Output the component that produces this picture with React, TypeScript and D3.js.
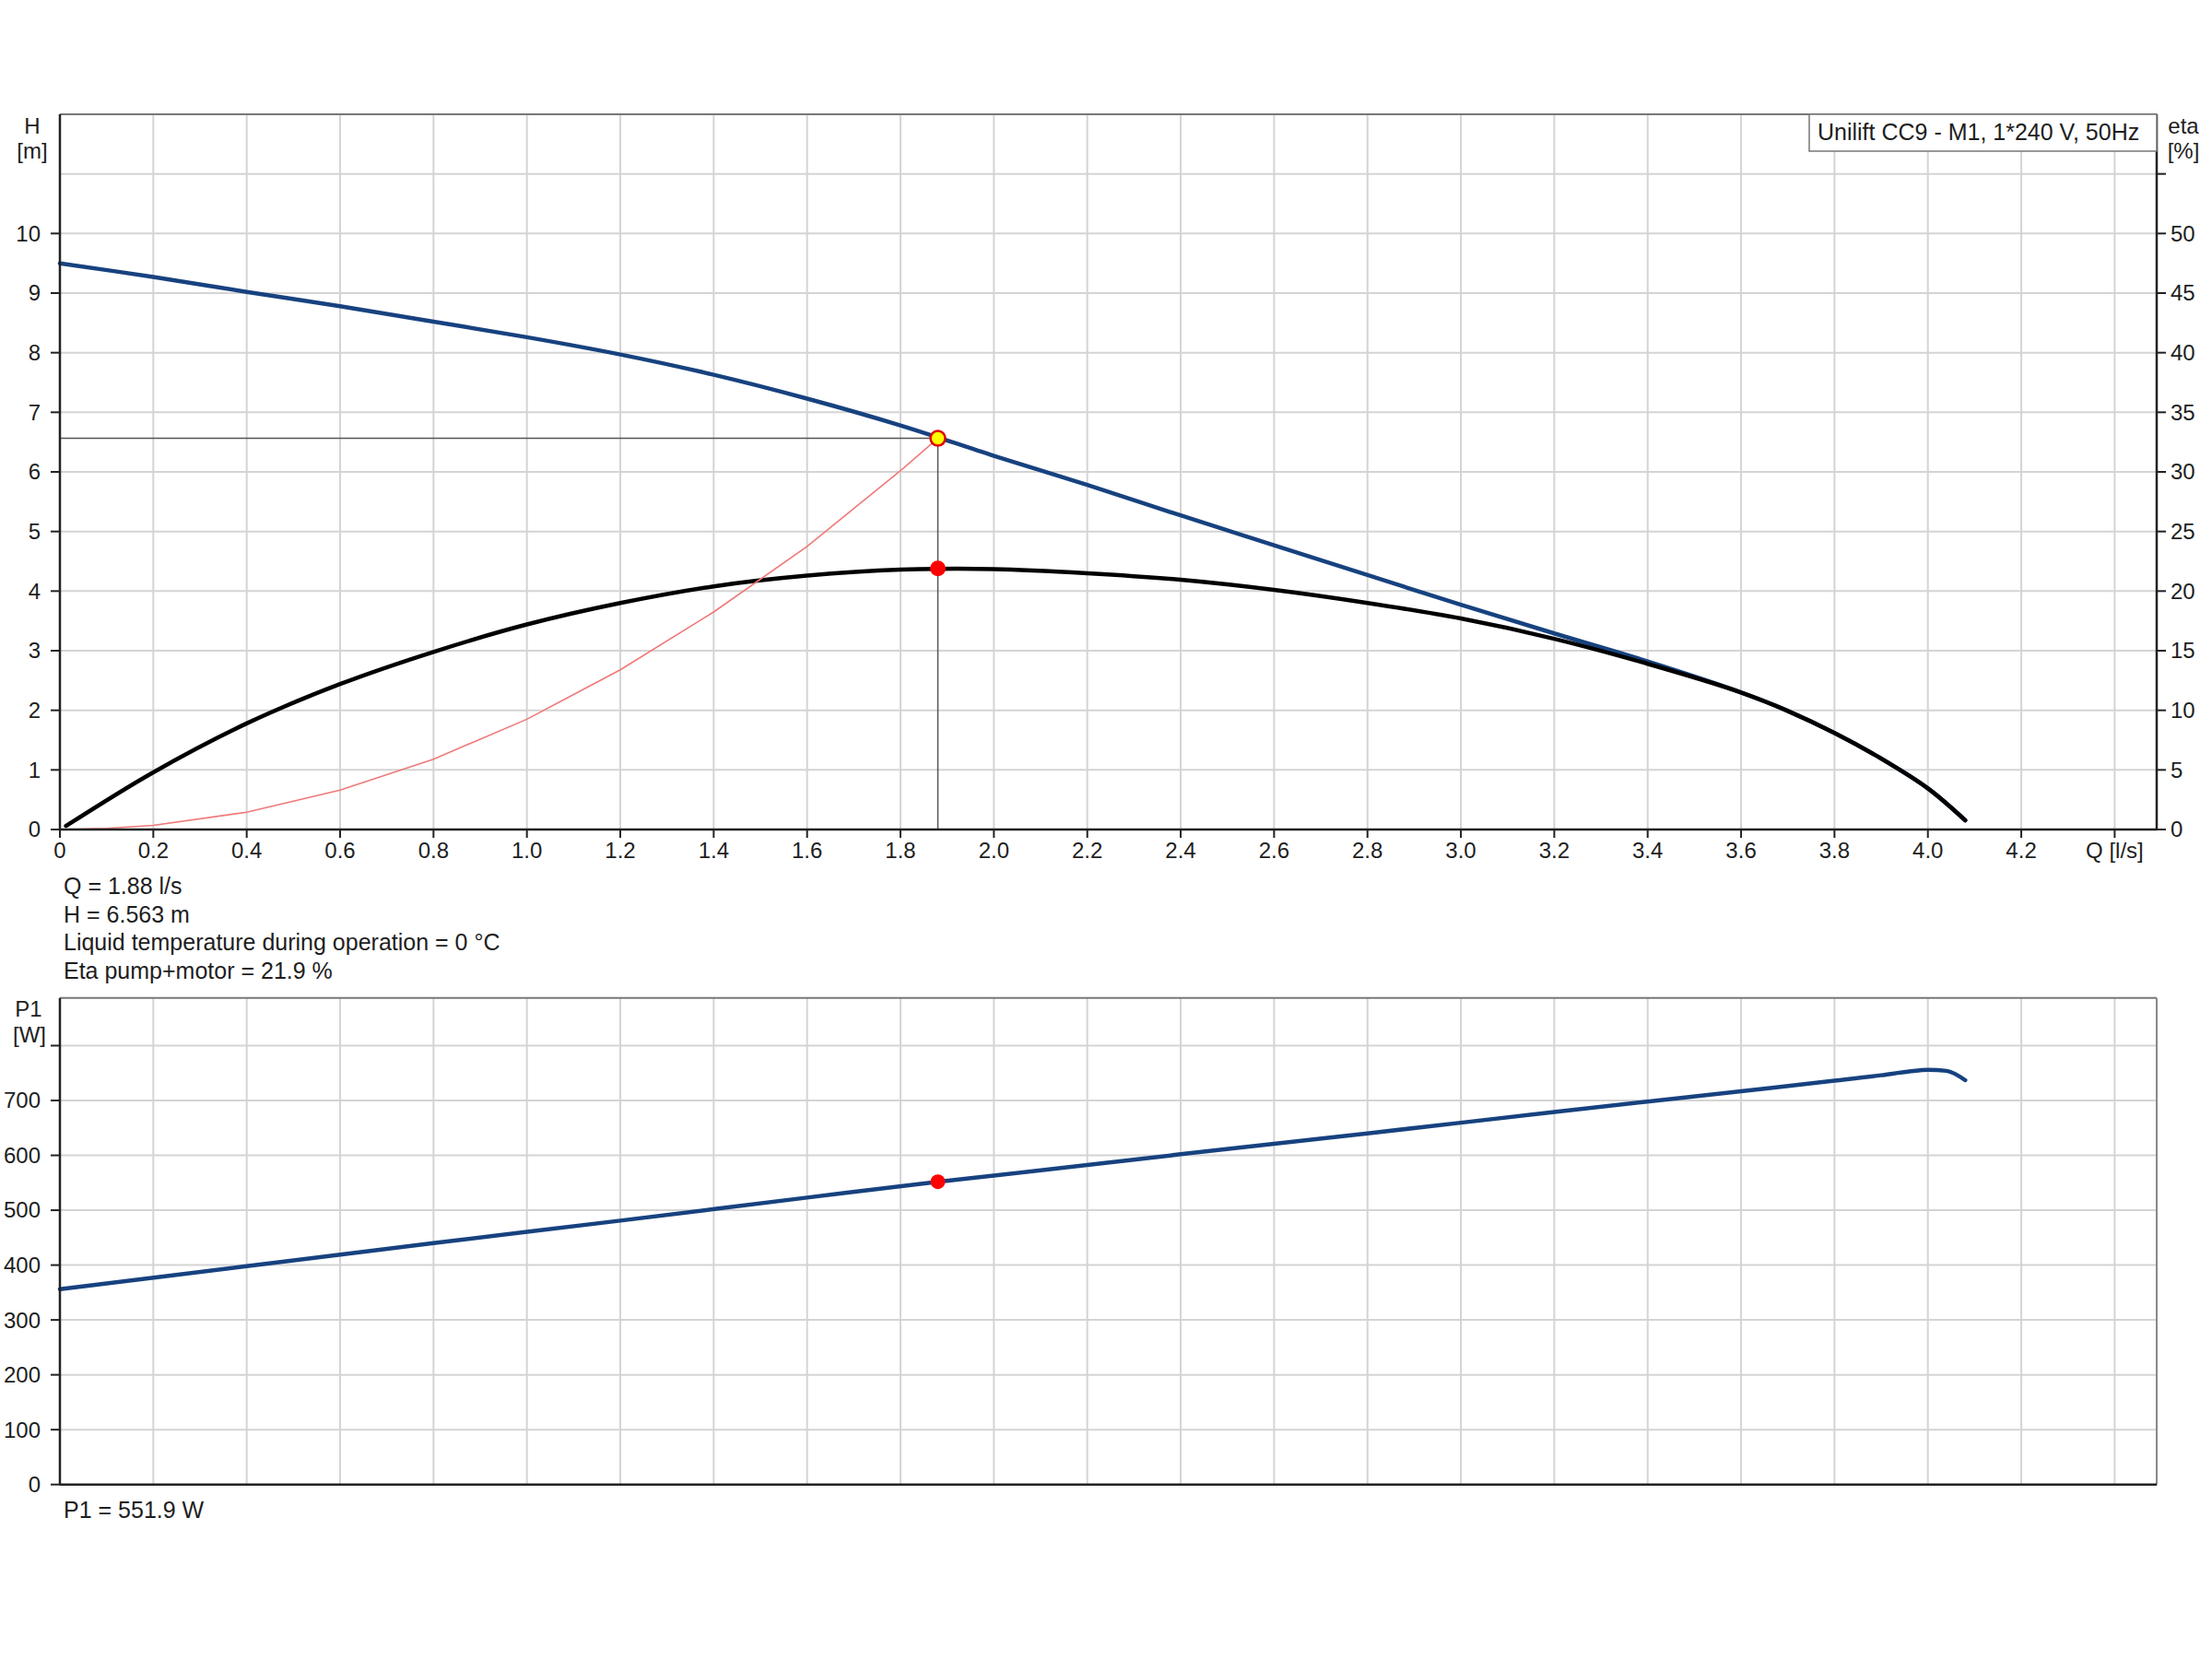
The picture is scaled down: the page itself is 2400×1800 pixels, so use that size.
import React from 'react';
import * as d3 from 'd3';

// ---------- data ----------
const qGrid = [0.2, 0.4, 0.6, 0.8, 1.0, 1.2, 1.4, 1.6, 1.8, 2.0, 2.2, 2.4, 2.6, 2.8, 3.0, 3.2, 3.4, 3.6, 3.8, 4.0, 4.2, 4.4];
const qTicks = [0, 0.2, 0.4, 0.6, 0.8, 1.0, 1.2, 1.4, 1.6, 1.8, 2.0, 2.2, 2.4, 2.6, 2.8, 3.0, 3.2, 3.4, 3.6, 3.8, 4.0, 4.2, 4.4];
const qTickLabels = ['0', '0.2', '0.4', '0.6', '0.8', '1.0', '1.2', '1.4', '1.6', '1.8', '2.0', '2.2', '2.4', '2.6', '2.8', '3.0', '3.2', '3.4', '3.6', '3.8', '4.0', '4.2', 'Q [l/s]'];
const hGrid = [1, 2, 3, 4, 5, 6, 7, 8, 9, 10, 11];
const hTicks = [0, 1, 2, 3, 4, 5, 6, 7, 8, 9, 10];
const etaTicks = [0, 5, 10, 15, 20, 25, 30, 35, 40, 45, 50, 55];
const etaTickLabels = ['0', '5', '10', '15', '20', '25', '30', '35', '40', '45', '50', ''];
const pGrid = [100, 200, 300, 400, 500, 600, 700, 800];
const pTicks = [0, 100, 200, 300, 400, 500, 600, 700, 800];
const pTickLabels = ['0', '100', '200', '300', '400', '500', '600', '700', ''];

const pumpQ = [0, 0.2, 0.4, 0.6, 0.8, 1.0, 1.2, 1.4, 1.6, 1.8, 2.0, 2.2, 2.4, 2.6, 2.8, 3.0, 3.2, 3.4, 3.6, 3.7, 3.8, 3.9, 4.0, 4.08];
const pumpH = [9.5, 9.27, 9.02, 8.78, 8.52, 8.26, 7.97, 7.63, 7.23, 6.78, 6.27, 5.78, 5.27, 4.77, 4.27, 3.77, 3.29, 2.82, 2.3, 1.99, 1.62, 1.19, 0.69, 0.155];

const etaQ = [0.013, 0.2, 0.4, 0.6, 0.8, 1.0, 1.2, 1.4, 1.6, 1.8, 2.0, 2.2, 2.4, 2.6, 2.8, 3.0, 3.2, 3.4, 3.6, 3.7, 3.8, 3.9, 4.0, 4.08];
const etaVal = [0.3, 4.8, 8.9, 12.2, 14.9, 17.2, 19.0, 20.4, 21.3, 21.8, 21.85, 21.5, 20.95, 20.1, 19.0, 17.7, 16.0, 13.9, 11.5, 9.95, 8.1, 5.95, 3.45, 0.77];

const sysQ = [0, 0.1, 0.2, 0.4, 0.6, 0.8, 1.0, 1.2, 1.4, 1.6, 1.8, 1.88];
const sysH = [0, 0.02, 0.07, 0.29, 0.66, 1.18, 1.85, 2.68, 3.65, 4.75, 6.02, 6.563];

const powerQ = [0, 0.4, 0.8, 1.2, 1.6, 1.88, 2.0, 2.4, 2.8, 3.2, 3.6, 3.8, 3.9, 3.96, 4.0, 4.04, 4.08];
const powerP = [356, 398, 440, 481, 523, 551.9, 563, 602, 640, 679, 717, 736, 746, 753, 756, 754, 737];

const dutyQ = 1.88;
const dutyH = 6.563;
const dutyEta = 21.9;
const dutyP = 551.9;

const infoLines = ['Q = 1.88 l/s', 'H = 6.563 m', 'Liquid temperature during operation = 0 °C', 'Eta pump+motor = 21.9 %'];
const powerInfo = 'P1 = 551.9 W';
const legendTitle = 'Unilift CC9 - M1, 1*240 V, 50Hz';

// ---------- layout ----------
const X0 = 65;
const X1 = 2340;
const T_TOP = 124;
const T_BOT = 900;
const B_TOP = 1082.7;
const B_BOT = 1610.7;
const FONT = '"Liberation Sans", Arial, sans-serif';
const TXT = '#1e1e1e';
const GRID = '#d4d4d4';
const BLUE = '#17427f';

export default function App() {
  const x = d3.scaleLinear().domain([0, 4.49]).range([X0, X1]);
  const yH = d3.scaleLinear().domain([0, 12]).range([T_BOT, T_TOP]);
  const yEta = d3.scaleLinear().domain([0, 60]).range([T_BOT, T_TOP]);
  const yP = d3.scaleLinear().domain([0, 887]).range([B_BOT, B_TOP]);

  const smooth = d3.curveCatmullRom.alpha(0.5);
  const lineH = d3.line<number>().x((_, i) => x(pumpQ[i])).y((d) => yH(d)).curve(smooth);
  const lineEta = d3.line<number>().x((_, i) => x(etaQ[i])).y((d) => yEta(d)).curve(smooth);
  const lineSys = d3.line<number>().x((_, i) => x(sysQ[i])).y((d) => yH(d)).curve(d3.curveLinear);
  const lineP = d3.line<number>().x((_, i) => x(powerQ[i])).y((d) => yP(d)).curve(d3.curveMonotoneX);

  return (
    <svg width={2400} height={1800} style={{ position: 'absolute', left: 0, top: 0, background: '#fff' }} fontFamily={FONT}>
      <rect x={0} y={0} width={2400} height={1800} fill="#fff" />

      {/* ---------- top chart grid ---------- */}
      {qGrid.map((q) => (
        <line key={'tv' + q} x1={x(q)} x2={x(q)} y1={T_TOP} y2={T_BOT} stroke={GRID} strokeWidth={2} />
      ))}
      {hGrid.map((h) => (
        <line key={'th' + h} x1={X0} x2={X1} y1={yH(h)} y2={yH(h)} stroke={GRID} strokeWidth={2} />
      ))}
      <line x1={X0} x2={X1} y1={T_TOP} y2={T_TOP} stroke="#777" strokeWidth={2} />

      {/* curves */}
      <path d={lineH(pumpH) || ''} fill="none" stroke={BLUE} strokeWidth={4.5} strokeLinecap="round" />
      <path d={lineEta(etaVal) || ''} fill="none" stroke="#000" strokeWidth={4.5} strokeLinecap="round" />
      <path d={lineSys(sysH) || ''} fill="none" stroke="#f07878" strokeWidth={1.6} />

      {/* duty lines */}
      <line x1={X0} x2={x(dutyQ)} y1={yH(dutyH)} y2={yH(dutyH)} stroke="#555" strokeWidth={1.5} />
      <line x1={x(dutyQ)} x2={x(dutyQ)} y1={yH(dutyH)} y2={T_BOT} stroke="#555" strokeWidth={1.5} />
      <circle cx={x(dutyQ)} cy={yEta(dutyEta)} r={8.5} fill="#ff0000" />
      <circle cx={x(dutyQ)} cy={yH(dutyH)} r={8} fill="#ffff00" stroke="#e00000" strokeWidth={2.5} />

      {/* axes top chart */}
      <line x1={X0} x2={X0} y1={T_TOP} y2={T_BOT} stroke="#222" strokeWidth={2.5} />
      <line x1={X1} x2={X1} y1={T_TOP} y2={T_BOT} stroke="#222" strokeWidth={2.5} />
      <line x1={X0} x2={X1} y1={T_BOT} y2={T_BOT} stroke="#222" strokeWidth={2.5} />

      {hTicks.map((h) => (
        <g key={'hl' + h}>
          <line x1={X0 - 10} x2={X0} y1={yH(h)} y2={yH(h)} stroke="#222" strokeWidth={2} />
          <text x={X0 - 21} y={yH(h)} dy="0.35em" textAnchor="end" fontSize={24} fill={TXT}>{h}</text>
        </g>
      ))}
      {etaTicks.map((e, i) => (
        <g key={'el' + e}>
          <line x1={X1} x2={X1 + 10} y1={yEta(e)} y2={yEta(e)} stroke="#222" strokeWidth={2} />
          <text x={X1 + 15} y={yEta(e)} dy="0.35em" textAnchor="start" fontSize={24} fill={TXT}>{etaTickLabels[i]}</text>
        </g>
      ))}
      {qTicks.map((q, i) => (
        <g key={'ql' + q}>
          <line x1={x(q)} x2={x(q)} y1={T_BOT} y2={T_BOT + 9} stroke="#222" strokeWidth={2} />
          <text x={x(q)} y={931} textAnchor="middle" fontSize={24} fill={TXT}>{qTickLabels[i]}</text>
        </g>
      ))}

      <text x={35} y={145} textAnchor="middle" fontSize={24} fill={TXT}>H</text>
      <text x={35} y={172} textAnchor="middle" fontSize={24} fill={TXT}>[m]</text>
      <text x={2369} y={145} textAnchor="middle" fontSize={24} fill={TXT}>eta</text>
      <text x={2369} y={172} textAnchor="middle" fontSize={24} fill={TXT}>[%]</text>

      {/* legend box */}
      <rect x={1963} y={T_TOP} width={X1 - 1963} height={40} fill="#fff" stroke="#777" strokeWidth={1.5} />
      <text x={1972} y={152} fontSize={25} fill={TXT}>{legendTitle}</text>

      {/* info text */}
      {infoLines.map((t, i) => (
        <text key={'info' + i} x={69} y={970 + i * 30.5} fontSize={25} fill={TXT}>{t}</text>
      ))}

      {/* ---------- bottom chart ---------- */}
      {qGrid.map((q) => (
        <line key={'bv' + q} x1={x(q)} x2={x(q)} y1={B_TOP} y2={B_BOT} stroke={GRID} strokeWidth={2} />
      ))}
      {pGrid.map((p) => (
        <line key={'bh' + p} x1={X0} x2={X1} y1={yP(p)} y2={yP(p)} stroke={GRID} strokeWidth={2} />
      ))}
      <line x1={X0} x2={X1} y1={B_TOP} y2={B_TOP} stroke="#777" strokeWidth={2} />
      <line x1={X1} x2={X1} y1={B_TOP} y2={B_BOT} stroke="#888" strokeWidth={2} />

      <path d={lineP(powerP) || ''} fill="none" stroke={BLUE} strokeWidth={4.5} strokeLinecap="round" />
      <circle cx={x(dutyQ)} cy={yP(dutyP)} r={8} fill="#ff0000" />

      <line x1={X0} x2={X0} y1={B_TOP} y2={B_BOT} stroke="#222" strokeWidth={2.5} />
      <line x1={X0} x2={X1} y1={B_BOT} y2={B_BOT} stroke="#222" strokeWidth={2.5} />
      {pTicks.map((p, i) => (
        <g key={'pl' + p}>
          <line x1={X0 - 10} x2={X0} y1={yP(p)} y2={yP(p)} stroke="#222" strokeWidth={2} />
          <text x={X0 - 21} y={yP(p)} dy="0.35em" textAnchor="end" fontSize={24} fill={TXT}>{pTickLabels[i]}</text>
        </g>
      ))}
      <text x={31} y={1103} textAnchor="middle" fontSize={24} fill={TXT}>P1</text>
      <text x={32} y={1131} textAnchor="middle" fontSize={24} fill={TXT}>[W]</text>

      <text x={69} y={1647} fontSize={25} fill={TXT}>{powerInfo}</text>
    </svg>
  );
}
